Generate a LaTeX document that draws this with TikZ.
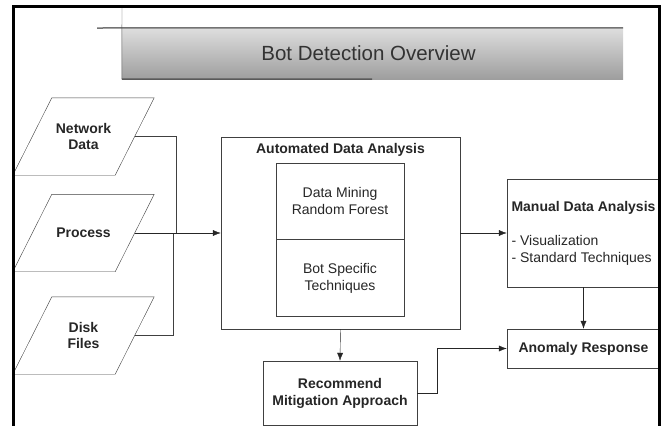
\documentclass[tikz,border=0pt]{standalone}
\usepackage{fontspec}
\setmainfont{Liberation Sans}
\usetikzlibrary{arrows.meta,positioning}
\definecolor{edgegray}{gray}{0.25}
\definecolor{bannertop}{gray}{0.87}
\definecolor{bannerbot}{gray}{0.62}

\begin{document}
\begin{tikzpicture}
	[x=1pt,y=-1pt,
	every node/.style={inner sep=0pt,align=center,text=black!85,font=\fontsize{14}{17}\selectfont},
	datain/.style={minimum width=102pt,minimum height=77pt,font=\fontsize{14}{16.5}\selectfont\bfseries},
	stepbox/.style={draw=edgegray,rectangle},
	link/.style={draw=edgegray},
	flow/.style={draw=black!85,-{Latex[length=8pt,width=6pt]}}]
	\useasboundingbox (0,0) rectangle (662,426);
	\node[top color=bannertop,bottom color=bannerbot,minimum width=501pt,minimum height=51pt,
		font=\fontsize{20.5}{24}\selectfont,text=black!80] (title) at (372.5,53.5) {Bot Detection Overview\hspace*{8pt}};
	\draw[black!55,line width=1.5pt] (97,28) -- (title.north east);
	\draw[black!70] (122,6) -- (title.south west);
	\draw[black!65,line width=1.5pt] (title.south west) -- (372,79);
	\node[datain] (net) at (83.5,136.5) {Network\\Data};
	\node[datain] (proc) at (83.5,233) {Process};
	\node[datain] (disk) at (83.5,335.5) {Disk\\Files};
	\foreach \n in {net,proc,disk}
		\draw[link] ([xshift=-19.5pt]\n.south west) -- ([xshift=-19.5pt]\n.south east)
			-- ([xshift=19.5pt]\n.north east) -- ([xshift=19.5pt]\n.north west) -- cycle;
	\node[stepbox,minimum width=239pt,minimum height=192pt] (auto) at (340.5,233) {};
	\node[font=\fontsize{14}{17}\selectfont\bfseries,below=6pt of auto.north] (autotitle) {Automated Data Analysis};
	\node[stepbox,minimum width=128pt,minimum height=76pt] (mine) at (340,201) {Data Mining\\Random Forest};
	\node[stepbox,minimum width=128pt,minimum height=77pt,below=0pt of mine] (bots) {Bot Specific\\Techniques};
	\node[stepbox,align=left,minimum width=153pt,minimum height=108pt] (manual) at (583.5,233)
		{\textbf{Manual Data Analysis}\\[17pt]- Visualization\\- Standard Techniques};
	\node[stepbox,minimum width=153pt,minimum height=39pt,font=\fontsize{14}{17}\selectfont\bfseries] (anomaly) at (583.5,348.5) {Anomaly Response};
	\node[stepbox,minimum width=154pt,minimum height=64pt,font=\fontsize{14}{17}\selectfont\bfseries] (recommend) at (340,393) {Recommend\\Mitigation Approach};
	\coordinate (jn) at (176,233);
	\coordinate (jd) at (173,233);
	\draw[link] (net.east) -| (jn);
	\draw[link] (disk.east) -| (jd);
	\draw[flow] (proc.east) -- (auto.west);
	\draw[flow] (auto.east) -- (manual.west);
	\draw[flow] (manual.south) -- (anomaly.north);
	\draw[flow] (auto.south) -- (recommend.north);
	\draw[flow] (recommend.east) -- ++(20,0) |- (anomaly.west);
	\draw[line width=3pt] (13.5,426) -- (13.5,6) -- (659.5,6) -- (659.5,426);
\end{tikzpicture}
\end{document}
